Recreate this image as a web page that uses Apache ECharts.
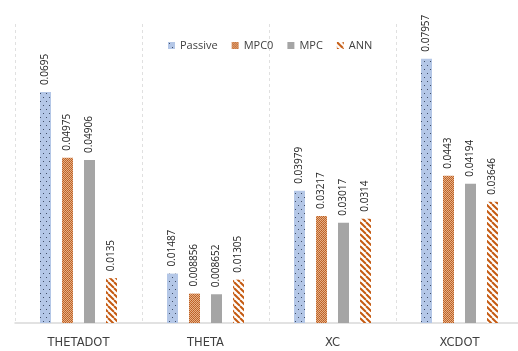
<!DOCTYPE html>
<html>
<head>
<meta charset="utf-8">
<script src="https://cdn.jsdelivr.net/npm/echarts@6/dist/echarts.min.js"></script>
<style>
  html, body { margin: 0; padding: 0; background: #fff; }
  #chart { width: 518px; height: 351px; }
</style>
</head>
<body>
<div id="chart"></div>
<script>
const categories = ['THETADOT', 'THETA', 'XC', 'XCDOT'];
const seriesNames = ['Passive', 'MPC0', 'MPC', 'ANN'];
const passive = [0.0695, 0.01487, 0.03979, 0.07957];
const mpc0 = [0.04975, 0.008856, 0.03217, 0.0443];
const mpc = [0.04906, 0.008652, 0.03017, 0.04194];
const ann = [0.0135, 0.01305, 0.0314, 0.03646];

// fill patterns like the office chart
function makePattern(w, h, draw) {
    const c = document.createElement('canvas');
    c.width = w;
    c.height = h;
    draw(c.getContext('2d'));
    return { image: c, repeat: 'repeat' };
}

const dotFill = makePattern(6, 8, ctx => {
    ctx.fillStyle = '#b4c7e7';
    ctx.fillRect(0, 0, 6, 8);
    ctx.fillStyle = '#3f4d66';
    ctx.fillRect(1, 1, 1, 1);
    ctx.fillRect(4, 5, 1, 1);
});

const checkFill = makePattern(4, 4, ctx => {
    ctx.fillStyle = '#c4682c';
    ctx.fillRect(0, 0, 4, 4);
    ctx.fillStyle = '#e4b088';
    [[0, 0], [2, 0], [1, 1], [3, 1], [0, 2], [2, 2], [1, 3], [3, 3]].forEach(p => {
        ctx.fillRect(p[0], p[1], 1, 1);
    });
    ctx.fillStyle = '#b85a1e';
    ctx.fillRect(1, 2, 1, 1);
    ctx.fillRect(3, 0, 1, 1);
});

const stripeFill = makePattern(6, 6, ctx => {
    ctx.fillStyle = '#ffffff';
    ctx.fillRect(0, 0, 6, 6);
    ctx.strokeStyle = '#c55a11';
    ctx.lineWidth = 2;
    [-6, 0, 6].forEach(o => {
        ctx.beginPath();
        ctx.moveTo(o, 0);
        ctx.lineTo(o + 6, 6);
        ctx.stroke();
    });
});

const fills = [dotFill, checkFill, '#a5a5a5', stripeFill];
const values = [passive, mpc0, mpc, ann];

const chart = echarts.init(document.getElementById('chart'));
chart.setOption({
    animation: false,
    textStyle: { fontFamily: 'Open Sans' },
    legend: {
        data: seriesNames,
        left: 163,
        top: 35,
        itemWidth: 7,
        itemHeight: 7,
        itemGap: 14,
        icon: 'rect',
        textStyle: { fontSize: 11, color: '#404040' }
    },
    grid: {
        left: 15,
        right: -5,
        top: 24,
        bottom: 28,
        outerBoundsMode: 'none'
    },
    xAxis: {
        type: 'category',
        data: categories,
        axisLine: { lineStyle: { color: '#d9d9d9', width: 1.5 } },
        axisTick: { show: false },
        axisLabel: {
            margin: 14,
            fontSize: 11.5,
            fontFamily: 'DejaVu Sans',
            color: '#404040'
        },
        splitLine: {
            show: true,
            interval: 0,
            lineStyle: { color: '#e0e0e0', type: [3, 3], width: 1 }
        }
    },
    yAxis: {
        type: 'value',
        min: 0,
        max: 0.09,
        show: false
    },
    series: seriesNames.map((name, i) => ({
        name: name,
        type: 'bar',
        data: values[i],
        barWidth: 11,
        barGap: '100%',
        itemStyle: { color: fills[i] },
        label: {
            show: true,
            position: 'top',
            rotate: 90,
            align: 'left',
            verticalAlign: 'middle',
            distance: 7,
            fontSize: 10,
            color: '#262626'
        }
    }))
});
</script>
</body>
</html>
